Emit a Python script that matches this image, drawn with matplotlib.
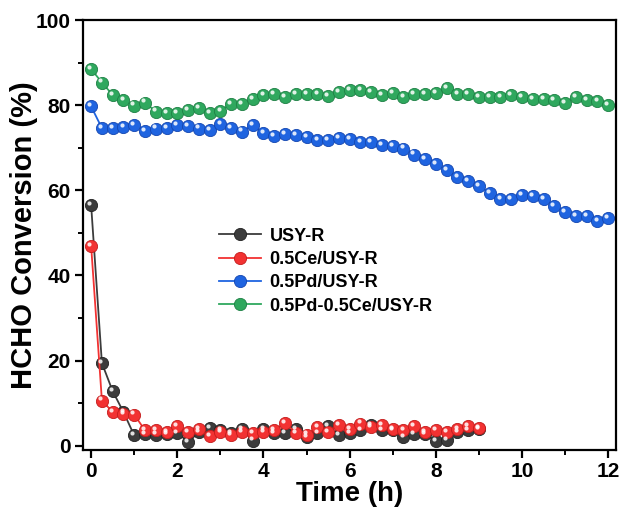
import numpy as np
from matplotlib import pyplot as plt
from matplotlib import transforms

plt.rcParams['font.family'] = ['Liberation Sans', 'DejaVu Sans']
plt.rcParams['font.weight'] = 'bold'

# time axis, 15 min steps
t_long = np.arange(49) * 0.25   # 0 .. 12 h
t_short = np.arange(37) * 0.25  # 0 .. 9 h

usy_r = [56.5, 19.4, 12.8, 7.9, 2.4, 2.8, 2.6, 2.8, 3.0, 0.9, 3.1, 4.1, 3.6,
         3.0, 3.9, 1.2, 3.9, 3.0, 3.0, 3.9, 2.0, 3.0, 4.6, 2.4, 3.0, 3.6, 4.8,
         3.6, 3.6, 2.0, 2.8, 2.8, 1.0, 1.4, 3.2, 3.6, 3.8]
ce_usy_r = [46.9, 10.6, 7.9, 7.5, 7.3, 3.6, 3.7, 3.3, 4.6, 3.1, 3.8, 2.3, 3.1,
            2.4, 3.1, 3.0, 3.1, 3.7, 5.3, 3.0, 2.6, 4.4, 3.3, 4.8, 3.8, 5.2, 4.4,
            4.8, 3.8, 3.6, 4.5, 3.2, 3.7, 3.2, 3.8, 4.5, 4.1]
pd_usy_r = [79.7, 74.6, 74.6, 74.8, 75.4, 74.0, 74.5, 74.6, 75.4, 75.0, 74.5,
            74.2, 75.6, 74.6, 73.8, 75.3, 73.4, 72.7, 73.2, 72.9, 72.4, 71.9,
            71.9, 72.2, 72.1, 71.3, 71.3, 70.6, 70.3, 69.8, 68.4, 67.4, 66.2,
            64.7, 63.1, 62.1, 61.0, 59.4, 58.0, 58.0, 58.8, 58.6, 58.0, 56.4,
            54.9, 53.9, 53.9, 52.8, 53.4]
pdce_usy_r = [88.5, 85.3, 82.4, 81.1, 79.9, 80.6, 78.5, 78.1, 78.1, 78.9, 79.3,
              78.1, 78.7, 80.3, 80.3, 81.4, 82.4, 82.7, 82.0, 82.7, 82.6, 82.6,
              82.2, 83.1, 83.5, 83.5, 83.0, 82.4, 82.8, 82.0, 82.6, 82.6, 82.8,
              84.0, 82.6, 82.6, 82.0, 81.9, 81.9, 82.3, 82.0, 81.5, 81.5, 81.2,
              80.5, 81.8, 81.2, 80.9, 80.1]

series = [
    (t_short, usy_r, "USY-R", "#3c3c3c", "#222222"),
    (t_short, ce_usy_r, "0.5Ce/USY-R", "#f23232", "#c41c1c"),
    (t_long, pd_usy_r, "0.5Pd/USY-R", "#1f64e0", "#1446b0"),
    (t_long, pdce_usy_r, "0.5Pd-0.5Ce/USY-R", "#2fa85e", "#1e8045"),
]

fig = plt.figure(figsize=(6.19, 5.13), dpi=100)
ax = fig.add_axes([0.134, 0.123, 0.861, 0.838])

# glossy highlight: small light dot shifted up-left
hl = transforms.offset_copy(ax.transData, fig=fig, x=-1.3, y=1.5, units='points')

for x, y, lab, c, ec in series:
    ax.plot(x, y, '-o', color=c, lw=1.3, ms=8.8, mfc=c, mec=ec, mew=0.6,
            label=lab, zorder=2)
    ax.plot(x, y, 'o', color='white', ms=3.0, alpha=0.85, mew=0,
            transform=hl, zorder=3)

ax.set_xlim(-0.19, 12.18)
ax.set_ylim(-1, 100)
ax.set_xticks(np.arange(0, 13, 2))
ax.set_xticks(np.arange(1, 12, 2), minor=True)
ax.set_yticks(np.arange(0, 101, 20))
ax.set_yticks(np.arange(10, 100, 20), minor=True)
ax.tick_params(which='major', direction='out', length=6, width=1.6, labelsize=15, pad=3)
ax.tick_params(which='minor', direction='out', length=3.5, width=1.4)
for sp in ax.spines.values():
    sp.set_linewidth(1.6)

ax.set_xlabel("Time (h)", fontsize=20, fontweight='bold', labelpad=0)
ax.set_ylabel("HCHO Conversion (%)", fontsize=21, fontweight='bold', labelpad=-2)

ax.legend(loc='upper left', bbox_to_anchor=(0.225, 0.555), frameon=False,
          prop={'size': 13, 'weight': 'bold'}, handlelength=2.3,
          labelspacing=0.35, handletextpad=0.5)

fig.savefig("out.png", dpi=100)
